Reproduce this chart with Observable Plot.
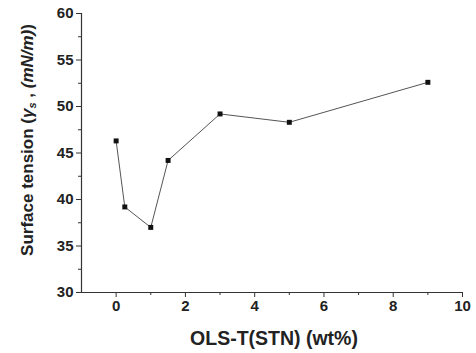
<!DOCTYPE html>
<html>
<head>
<meta charset="utf-8">
<script src="https://cdn.jsdelivr.net/npm/d3@7"></script>
<script src="https://cdn.jsdelivr.net/npm/@observablehq/plot@0.6"></script>
<style>
  html, body { margin: 0; padding: 0; background: #fff; }
  #chart { width: 476px; height: 353px; }
</style>
</head>
<body>
<div id="chart"></div>
<script>
const concentration = [0, 0.25, 1, 1.5, 3, 5, 9];
const surfaceTension = [46.3, 39.2, 37.0, 44.2, 49.2, 48.3, 52.6];
const xTicks = [0, 2, 4, 6, 8, 10];
const xMinorTicks = [1, 3, 5, 7, 9];
const yTicks = [30, 35, 40, 45, 50, 55, 60];
const yMinorTicks = [32.5, 37.5, 42.5, 47.5, 52.5, 57.5];
const xLabel = "OLS-T(STN) (wt%)";

const data = concentration.map((c, i) => ({c, t: surfaceTension[i]}));
const axisColor = "#333";
const font = "'Liberation Sans', Arial, sans-serif";

const plot = Plot.plot({
  width: 476,
  height: 353,
  marginLeft: 81,
  marginRight: 14,
  marginTop: 13,
  marginBottom: 61,
  x: {domain: [-1, 10]},
  y: {domain: [30, 60]},
  style: {fontFamily: font, fontSize: "15px", fontWeight: "bold", color: "#222", background: "#fff"},
  marks: [
    Plot.axisX({ticks: xTicks, tickSize: 5, tickPadding: 3, label: null, stroke: axisColor, fill: "#222"}),
    Plot.axisX({ticks: xMinorTicks, tickSize: 3, tickFormat: () => "", label: null, stroke: axisColor}),
    Plot.axisY({ticks: yTicks, tickSize: 5, tickPadding: 3, label: null, stroke: axisColor, fill: "#222"}),
    Plot.axisY({ticks: yMinorTicks, tickSize: 3, tickFormat: () => "", label: null, stroke: axisColor}),
    Plot.ruleY([30], {x1: -1, x2: 10, stroke: axisColor, strokeWidth: 1.2}),
    Plot.ruleX([-1], {y1: 30, y2: 60, stroke: axisColor, strokeWidth: 1.2}),
    Plot.line(data, {x: "c", y: "t", stroke: "#555", strokeWidth: 1}),
    Plot.dot(data, {x: "c", y: "t", symbol: "square", r: 2.8, fill: "#111", stroke: "none"})
  ]
});
document.getElementById("chart").appendChild(plot);

const svg = d3.select(plot);
// y-axis title
const yt = svg.append("text")
  .attr("transform", "translate(33,140) rotate(-90)")
  .attr("text-anchor", "middle")
  .attr("font-family", font)
  .attr("font-size", 17)
  .attr("font-weight", "bold")
  .attr("fill", "#222");
yt.append("tspan").text("Surface tension (");
yt.append("tspan").attr("font-style", "italic").text("γ");
yt.append("tspan").attr("font-style", "italic").attr("font-size", 11).attr("dy", 3).text("s");
yt.append("tspan").attr("dy", -3).text(" , ");
yt.append("tspan").attr("font-style", "italic").text("(mN/m)");
yt.append("tspan").text(")");

// x-axis title
svg.append("text")
  .attr("x", 274)
  .attr("y", 345)
  .attr("text-anchor", "middle")
  .attr("font-family", font)
  .attr("font-size", 19.5)
  .attr("font-weight", "bold")
  .attr("fill", "#222")
  .text(xLabel);
</script>
</body>
</html>
